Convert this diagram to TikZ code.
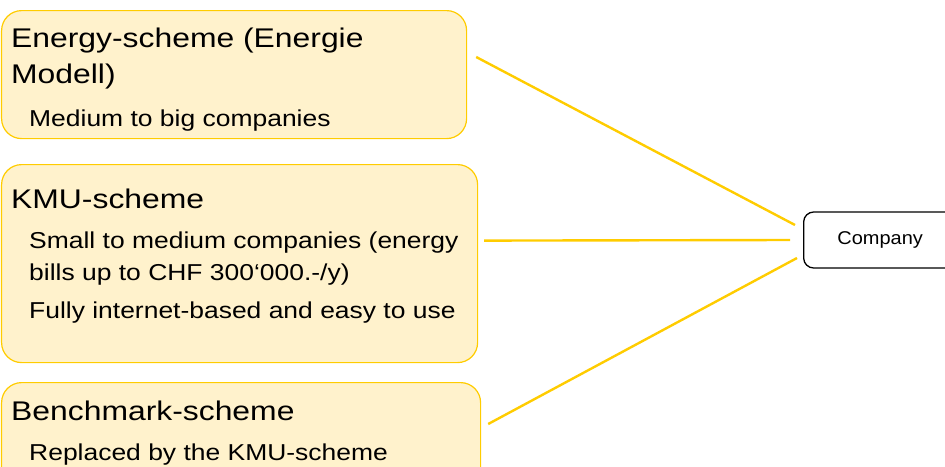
\documentclass[tikz,border=0pt]{standalone}
\usepackage{fontspec}
\setmainfont{Liberation Sans}
\newfontfamily\titlefont[FakeStretch=1.18]{Liberation Sans}
\newfontfamily\subfont[FakeStretch=1.15]{Liberation Sans}
\newfontfamily\cofont[FakeStretch=1.08]{Liberation Sans}
\usetikzlibrary{calc}
\definecolor{boxfill}{HTML}{FFF2CC}
\definecolor{boxline}{HTML}{FFCC00}
\definecolor{conn}{HTML}{FFCC00}
\begin{document}
\begin{tikzpicture}[x=1pt,y=-1pt,
  schemebox/.style={draw=boxline,line width=1.2pt,fill=boxfill,rounded corners=20pt},
  title/.style={anchor=base west,inner sep=0pt,font=\titlefont\fontsize{27}{32}\selectfont},
  sub/.style={anchor=base west,inner sep=0pt,font=\subfont\fontsize{23}{28}\selectfont},
  connector/.style={draw=conn,line width=2.4pt},
  cobox/.style={draw=black,line width=1.3pt,rounded corners=10pt,fill=white,
    minimum width=157pt,minimum height=56pt,inner sep=0pt,font=\cofont\fontsize{18.5}{22}\selectfont}]
\useasboundingbox (0,0) rectangle (945,466);
\clip (0,0) rectangle (945,466);
% boxes
\node[schemebox,inner sep=0pt,minimum width=465pt,minimum height=128pt,anchor=north west] (b1) at (1,10) {};
\node[schemebox,inner sep=0pt,minimum width=476pt,minimum height=198pt,anchor=north west] (b2) at (1,164) {};
\node[schemebox,inner sep=0pt,minimum width=479pt,minimum height=128pt,anchor=north west] (b3) at (1,382) {};
% texts
\node[title] (t1a) at (11,47) {Energy-scheme (Energie};
\node[title] (t1b) at (11,83) {Modell)};
\node[sub] (s1a) at (29,126) {Medium to big companies};
\node[title] (t2) at (11,208) {KMU-scheme};
\node[sub] (s2a) at (29,248) {Small to medium companies (energy};
\node[sub] (s2b) at (29,280) {bills up to CHF 300‘000.-/y)};
\node[sub] (s2c) at (29,318) {Fully internet-based and easy to use};
\node[title] (t3) at (11,420) {Benchmark-scheme};
\node[sub] (s3a) at (29,460) {Replaced by the KMU-scheme};
% company
\node[cobox,anchor=west] (co) at (803,240) {\hspace*{-4pt}Company};
% connector ends
\coordinate (p1) at ($(b1.north east)+(9,47)$);
\coordinate (p2) at ($(b2.east)+(6,-23)$);
\coordinate (p3) at ($(b3.north east)+(7,42)$);
\coordinate (q1) at ($(co.west)+(-8,-15)$);
\coordinate (q2) at ($(co.west)+(-13,0)$);
\coordinate (q3) at ($(co.west)+(-6,18)$);
\draw[connector] (p1) -- (q1);
\draw[connector] (p2) -- (q2);
\draw[connector] (p3) -- (q3);
\end{tikzpicture}
\end{document}
